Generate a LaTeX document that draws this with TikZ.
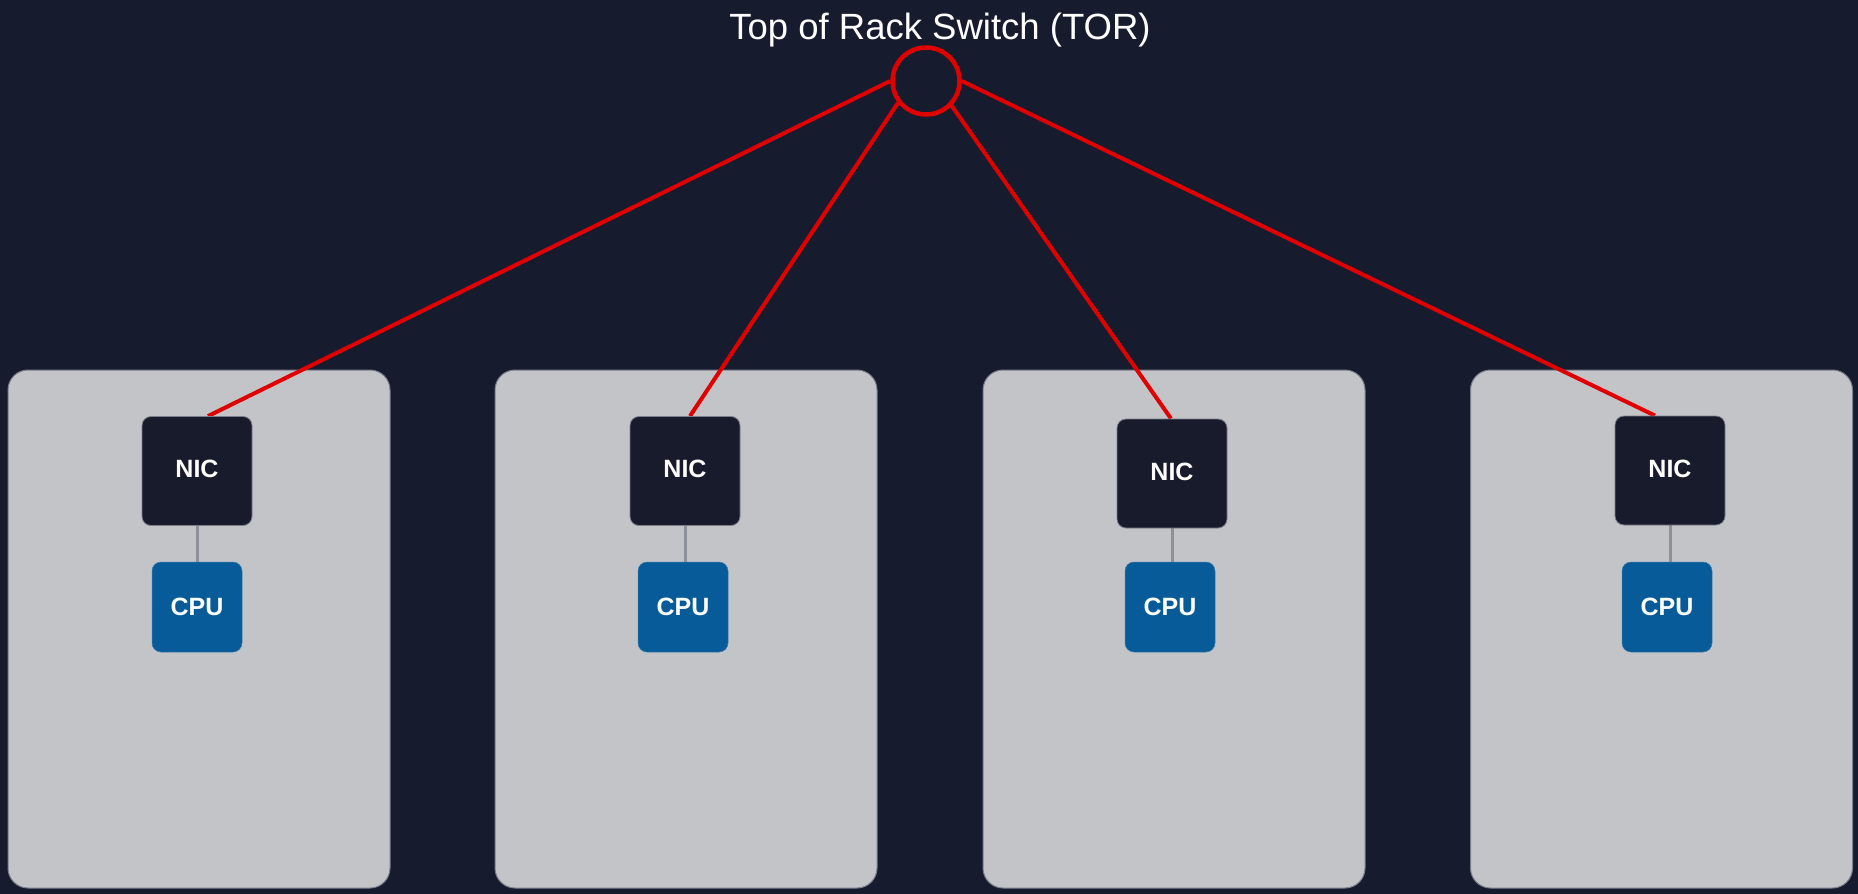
\documentclass[tikz,border=0pt]{standalone}
\usepackage{fontspec}
\setmainfont{Liberation Sans}
\usetikzlibrary{calc,backgrounds}
\definecolor{bg}{RGB}{23,27,46}
\definecolor{rackgrey}{RGB}{195,196,200}
\definecolor{rackedge}{RGB}{122,126,138}
\definecolor{nicfill}{RGB}{23,27,43}
\definecolor{cpublue}{RGB}{7,91,153}
\definecolor{linkred}{RGB}{224,0,0}
\definecolor{busgrey}{RGB}{140,144,153}
\begin{document}
\begin{tikzpicture}[x=1pt,y=-1pt,
  server/.style={draw=rackedge, line width=1pt, fill=rackgrey, rounded corners=20pt,
    minimum width=382pt, minimum height=518pt, inner sep=0pt},
  nicbox/.style={draw=rackedge, line width=0.8pt, fill=nicfill, rounded corners=9pt,
    minimum width=110pt, minimum height=109pt, inner sep=0pt, text=white,
    font=\bfseries\fontsize{25}{25}\selectfont, text depth=4pt},
  cpubox/.style={draw=cpublue!80!white, line width=0.5pt, fill=cpublue, rounded corners=9pt,
    minimum width=90pt, minimum height=90pt, inner sep=0pt, text=white,
    font=\bfseries\fontsize{25}{25}\selectfont},
  link/.style={draw=linkred, line width=4pt},
  bus/.style={draw=busgrey, line width=3pt}
]
\useasboundingbox (0,0) rectangle (1858,894);

% canvas and servers, kept beneath everything else
\begin{scope}[on background layer]
  \fill[bg] (0,0) rectangle (1858,894);
  \node[server] (rack1) at (199,629) {};
  \node[server] (rack2) at (686,629) {};
  \node[server] (rack3) at (1174,629) {};
  \node[server] (rack4) at (1661.5,629) {};
\end{scope}

% switch and its caption
\node[draw=linkred, line width=4.5pt, circle, minimum size=67pt, inner sep=0pt] (tor) at (926,81) {};
\node[anchor=base, text=white, font=\fontsize{36.5}{36.5}\selectfont] (torlabel) at (940,39) {Top of Rack Switch (TOR)};

% network cards and processors
\node[nicbox] (nic1) at (197,471) {NIC};
\node[nicbox] (nic2) at (685,471) {NIC};
\node[nicbox] (nic3) at (1172,473.5) {NIC};
\node[nicbox] (nic4) at (1670,470.5) {NIC};

\node[cpubox] (cpu1) at (197,607) {CPU};
\node[cpubox] (cpu2) at (683,607) {CPU};
\node[cpubox] (cpu3) at (1170,607) {CPU};
\node[cpubox] (cpu4) at (1667,607) {CPU};

% NIC to CPU buses
\begin{scope}[on background layer]
  \foreach \i in {1,2,3,4}
    \draw[bus] (nic\i.south) -- (nic\i.south |- cpu\i.north);
\end{scope}

% uplinks from the switch
\begin{scope}[on background layer]
  \draw[link] (tor.180) -- ($(nic1.north)+(11,0)$);
  \draw[link] (tor.218) -- ($(nic2.north)+(5,0)$);
  \draw[link] (tor.316) -- ($(nic3.north)+(-1,0)$);
  \draw[link] (tor.0) -- ($(nic4.north)+(-15,0)$);
\end{scope}
\end{tikzpicture}
\end{document}
